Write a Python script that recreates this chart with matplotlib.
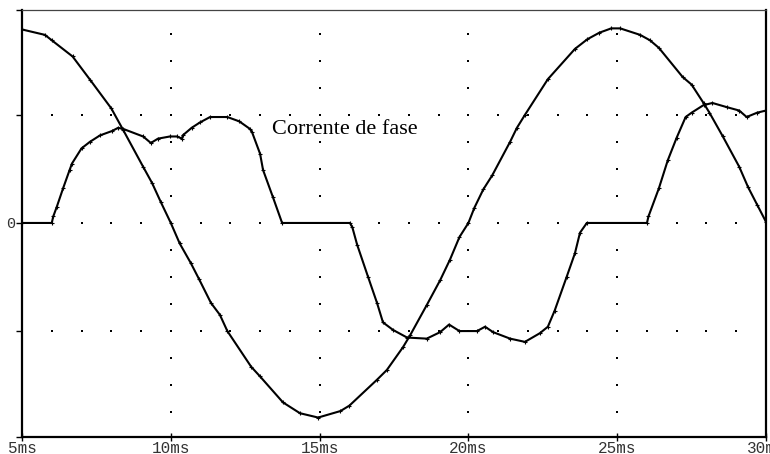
import numpy as np
from matplotlib import pyplot as plt

# tensao (curva senoidal), tempo em ms
t_v = [5.0, 5.77, 6.0, 6.7, 7.3, 8.0, 8.4, 9.07, 9.37, 9.67, 10.0, 10.3, 10.67,
       10.95, 11.35, 11.65, 11.9, 12.7, 13.0, 13.77, 14.34, 14.95, 15.7, 16.0,
       16.93, 17.26, 17.8, 18.04, 18.6, 19.05, 19.38, 19.7, 20.0, 20.2, 20.5,
       20.8, 21.4, 21.63, 21.9, 22.67, 23.58, 24.0, 24.4, 24.8, 25.1, 25.77,
       26.1, 26.4, 27.2, 27.5, 27.9, 28.1, 28.55, 29.1, 29.4, 29.7, 30.0]
v = [1.79, 1.74, 1.69, 1.54, 1.32, 1.06, 0.86, 0.52, 0.37, 0.19, 0.0, -0.19, -0.37,
     -0.52, -0.74, -0.85, -1.0, -1.33, -1.42, -1.66, -1.76, -1.80, -1.74, -1.69,
     -1.45, -1.36, -1.15, -1.04, -0.76, -0.53, -0.34, -0.13, 0.0, 0.14, 0.31,
     0.44, 0.75, 0.88, 1.0, 1.33, 1.61, 1.70, 1.76, 1.80, 1.80, 1.74,
     1.69, 1.62, 1.35, 1.28, 1.11, 1.02, 0.80, 0.52, 0.33, 0.17, 0.01]

# corrente de fase
t_i = [5.0, 6.0, 6.05, 6.17, 6.38, 6.6, 6.68, 7.0, 7.28, 7.62, 8.02, 8.23, 8.4,
       9.07, 9.33, 9.57, 9.97, 10.2, 10.38, 10.4, 10.7, 10.98, 11.32, 11.9, 12.3,
       12.66, 12.73, 13.0, 13.1, 13.43, 13.74, 16.02, 16.1, 16.26, 16.63, 16.93,
       17.13, 17.47, 17.94, 18.6, 19.05, 19.35, 19.7, 20.29, 20.56, 20.83, 21.4,
       21.9, 22.4, 22.67, 22.9, 23.3, 23.58, 23.75, 23.98, 26.0, 26.05, 26.4,
       26.7, 27.0, 27.3, 27.5, 27.9, 28.2, 28.7, 29.1, 29.35, 29.7, 30.0]
i = [0.0, 0.0, 0.06, 0.15, 0.32, 0.49, 0.55, 0.69, 0.75, 0.81, 0.85, 0.88, 0.87,
     0.80, 0.74, 0.78, 0.80, 0.80, 0.78, 0.81, 0.88, 0.93, 0.98, 0.98, 0.94,
     0.87, 0.84, 0.64, 0.49, 0.24, 0.0, 0.0, -0.04, -0.20, -0.50, -0.74,
     -0.92, -0.99, -1.06, -1.07, -1.01, -0.94, -1.0, -1.0, -0.96, -1.01, -1.07,
     -1.10, -1.02, -0.96, -0.81, -0.50, -0.28, -0.09, 0.0, 0.0, 0.06, 0.32,
     0.58, 0.79, 0.98, 1.02, 1.09, 1.11, 1.07, 1.04, 0.98, 1.02, 1.04]

x_ticks = [5, 10, 15, 20, 25, 30]
x_labels = ["5ms", "10ms", "15ms", "20ms", "25ms", "30ms"]
y_lo, y_hi = -1.98, 1.97

fig = plt.figure(figsize=(7.7, 4.54), dpi=100)
ax = fig.add_axes([22 / 770, 1 - 437 / 454, 744 / 770, 427 / 454])

# grade pontilhada
gy = np.arange(-1.75, 1.76, 0.25)
for gx in [10, 15, 20, 25]:
    ax.plot([gx] * len(gy), gy, ls="none", marker="s", ms=1.6, color="black", mew=0)
gx = np.arange(6, 30, 1)
for yy in [-1, 0, 1]:
    ax.plot(gx, [yy] * len(gx), ls="none", marker="s", ms=1.6, color="black", mew=0)

ax.plot(t_v, v, color="black", lw=1.5, marker="+", ms=3, mew=0.8)
ax.plot(t_i, i, color="black", lw=1.5, marker="+", ms=3, mew=0.8)

ax.text(13.4, 0.86, "Corrente de fase", family="Liberation Serif", fontsize=16,
        va="center", ha="left")

ax.set_xlim(5, 30)
ax.set_ylim(y_lo, y_hi)
ax.set_xticks(x_ticks)
ax.set_xticklabels(x_labels, family="Liberation Mono", fontsize=11.5, color="#333333")
ax.set_yticks([y_lo, -1, 0, 1, y_hi])
ax.set_yticklabels(["", "", "0", "", ""], family="Liberation Mono", fontsize=11,
                   color="#333333")
ax.tick_params(axis="x", direction="inout", length=6, width=1, pad=0)
ax.tick_params(axis="y", direction="out", length=4, width=1, pad=1)

for s in ["left", "bottom", "right"]:
    ax.spines[s].set_linewidth(1.6)
ax.spines["top"].set_linewidth(0.9)
ax.spines["top"].set_color("#444444")

fig.savefig("out.png", dpi=100)
